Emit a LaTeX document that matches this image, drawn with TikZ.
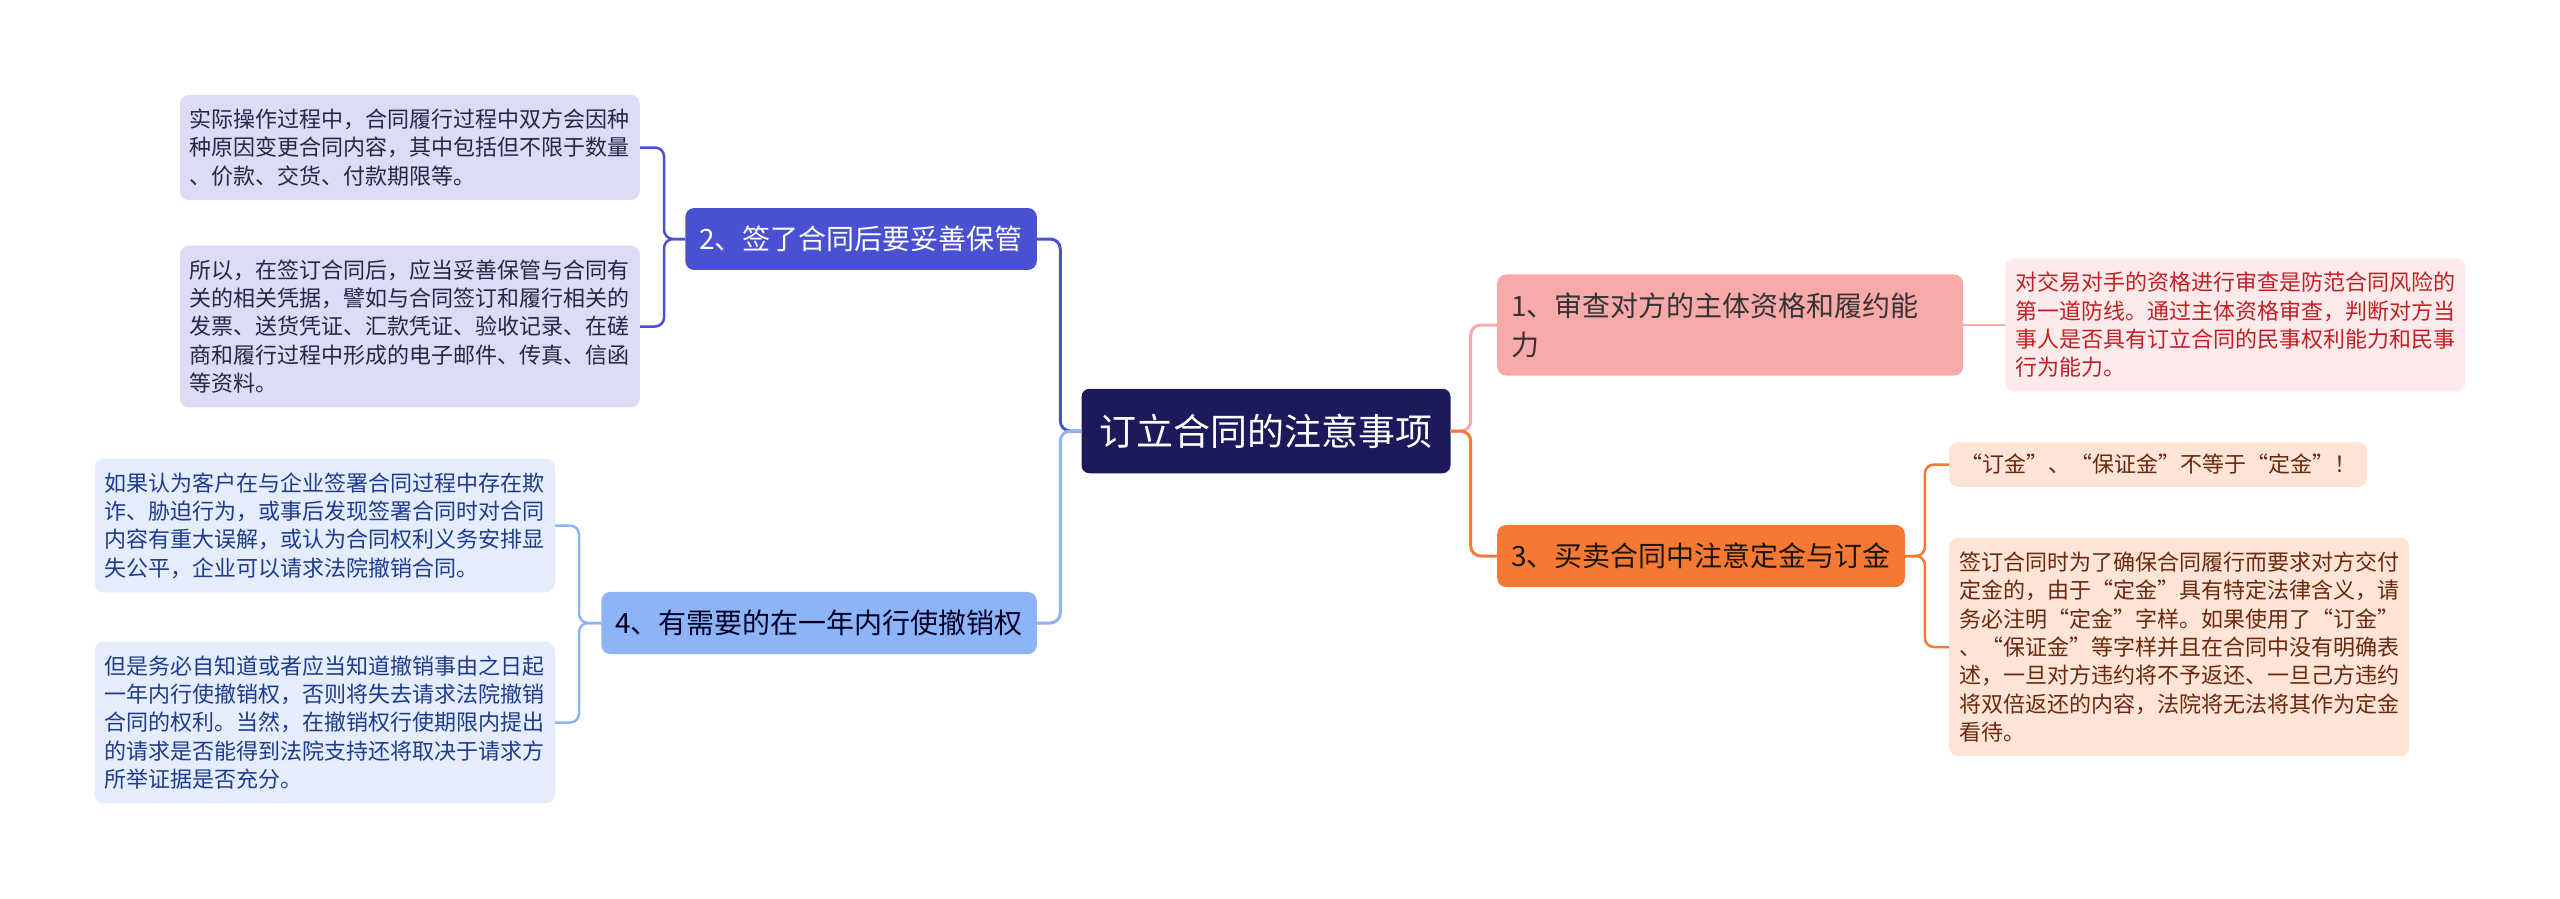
\documentclass[tikz,border=0pt]{standalone}
\usepackage{fontspec}
\newfontfamily\cjk{Noto Sans CJK SC}
\usetikzlibrary{positioning}
\definecolor{navy}{HTML}{1C1A5A}
\definecolor{cTwo}{HTML}{4A50D2}
\definecolor{cFour}{HTML}{8DB4F6}
\definecolor{cOne}{HTML}{F8AAAA}
\definecolor{cThree}{HTML}{F47A34}
\definecolor{fTwo}{HTML}{DCDCF6}
\definecolor{fFour}{HTML}{E5EDFC}
\definecolor{fOne}{HTML}{FDEBEB}
\definecolor{fThree}{HTML}{FDE4D6}
\definecolor{tTwo}{HTML}{262646}
\definecolor{tFour}{HTML}{1E3C8E}
\definecolor{tOne}{HTML}{C21F25}
\definecolor{tThree}{HTML}{6A290C}
\tikzset{
  root/.style={fill=navy,rounded corners=8pt,text=white,font=\cjk\fontsize{37}{44}\selectfont,inner xsep=18pt,inner ysep=25pt},
  topic/.style={rounded corners=9pt,font=\cjk\fontsize{28}{39}\selectfont,inner xsep=14pt,inner ysep=18pt,align=left},
  leaf/.style={rounded corners=9pt,font=\cjk\fontsize{22}{28.3}\selectfont,inner xsep=10pt,inner ysep=14pt,align=left,text width=440pt},
  link/.style={line width=3pt,rounded corners=10pt},
  sublink/.style={line width=2.5pt,rounded corners=9pt}
}

\begin{document}
\begin{tikzpicture}[x=1pt,y=-1pt]
\useasboundingbox (0,0) rectangle (2560,898);
\node[root](root) at (1266,431){订立合同的注意事项};
\node[topic,fill=cTwo,text=white,anchor=east](n2) at (1037,239){2、签了合同后要妥善保管};
\node[topic,fill=cFour,text=black!85!blue,anchor=east](n4) at (1037,623){4、有需要的在一年内行使撤销权};
\node[topic,fill=cOne,text=black!80,anchor=west,text width=438pt](n1) at (1497,325){1、审查对方的主体资格和履约能\\力};
\node[topic,fill=cThree,text=black!85!brown,anchor=west](n3) at (1497,556){3、买卖合同中注意定金与订金};
\node[leaf,fill=fTwo,text=tTwo,anchor=east](l2a) at (640,147.5){实际操作过程中，合同履行过程中双方会因种\\种原因变更合同内容，其中包括但不限于数量\\、价款、交货、付款期限等。};
\node[leaf,fill=fTwo,text=tTwo,anchor=east](l2b) at (640,326.5){所以，在签订合同后，应当妥善保管与合同有\\关的相关凭据，譬如与合同签订和履行相关的\\发票、送货凭证、汇款凭证、验收记录、在磋\\商和履行过程中形成的电子邮件、传真、信函\\等资料。};
\node[leaf,fill=fFour,text=tFour,anchor=east](l4a) at (555,525.5){如果认为客户在与企业签署合同过程中存在欺\\诈、胁迫行为，或事后发现签署合同时对合同\\内容有重大误解，或认为合同权利义务安排显\\失公平，企业可以请求法院撤销合同。};
\node[leaf,fill=fFour,text=tFour,anchor=east](l4b) at (555,722.5){但是务必自知道或者应当知道撤销事由之日起\\一年内行使撤销权，否则将失去请求法院撤销\\合同的权利。当然，在撤销权行使期限内提出\\的请求是否能得到法院支持还将取决于请求方\\所举证据是否充分。};
\node[leaf,fill=fOne,text=tOne,anchor=west](l1) at (2005,325){对交易对手的资格进行审查是防范合同风险的\\第一道防线。通过主体资格审查，判断对方当\\事人是否具有订立合同的民事权利能力和民事\\行为能力。};
\node[leaf,fill=fThree,text=tThree,anchor=west,text width=,inner xsep=11pt,inner ysep=12pt](l3a) at (1949,464.5){“订金”、“保证金”不等于“定金”！};
\node[leaf,fill=fThree,text=tThree,anchor=west](l3b) at (1949,647){签订合同时为了确保合同履行而要求对方交付\\定金的，由于“定金”具有特定法律含义，请\\务必注明“定金”字样。如果使用了“订金”\\、“保证金”等字样并且在合同中没有明确表\\述，一旦对方违约将不予返还、一旦己方违约\\将双倍返还的内容，法院将无法将其作为定金\\看待。};
\draw[link,cTwo](root.west)--++(-21,0)|-(n2.east);
\draw[link,cFour](root.west)--++(-21,0)|-(n4.east);
\draw[link,cOne](root.east)--++(20,0)|-(n1.west);
\draw[link,cThree](root.east)--++(20,0)|-(n3.west);
\draw[sublink,cTwo](n2.west)--++(-21,0)|-(l2a.east);
\draw[sublink,cTwo](n2.west)--++(-21,0)|-(l2b.east);
\draw[sublink,cFour](n4.west)--++(-22,0)|-(l4a.east);
\draw[sublink,cFour](n4.west)--++(-22,0)|-(l4b.east);
\draw[sublink,cOne](n1.east)--(l1.west);
\draw[sublink,cThree](n3.east)--++(20,0)|-(l3a.west);
\draw[sublink,cThree](n3.east)--++(20,0)|-(l3b.west);
\end{tikzpicture}
\end{document}
